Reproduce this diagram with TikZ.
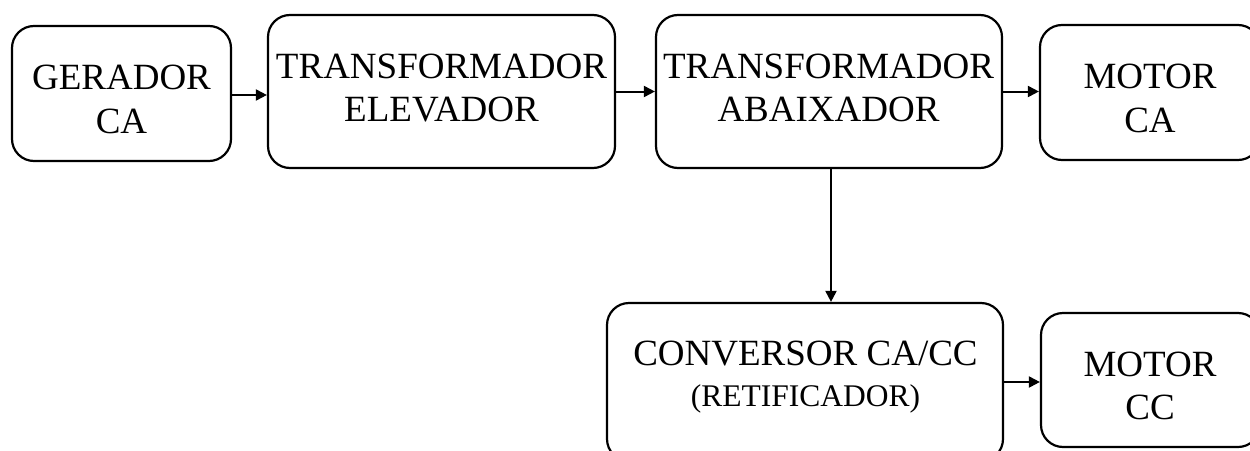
\documentclass[tikz,border=0pt]{standalone}
\usepackage{fontspec}
\setmainfont{Liberation Serif}
\usetikzlibrary{arrows.meta}
\begin{document}
\begin{tikzpicture}[x=1pt,y=-1pt,
  box/.style={draw=black, line width=2.2pt, rounded corners=22pt, inner sep=0pt},
  lbl/.style={anchor=base, inner sep=0pt, font=\fontsize{37}{44}\selectfont},
  lblsmall/.style={anchor=base, inner sep=0pt, font=\fontsize{31.5}{38}\selectfont},
  arr/.style={line width=2pt, -{Triangle[length=11pt,width=11pt]}}]
\useasboundingbox (0,0) rectangle (1250,450);
\clip (0,0) rectangle (1250,450);
% boxes
\node[box, minimum width=219pt, minimum height=135pt] (b1) at (121.5,93.5) {};
\node[box, minimum width=347pt, minimum height=153pt] (b2) at (441.5,91.5) {};
\node[box, minimum width=346pt, minimum height=153pt] (b3) at (829,91.5) {};
\node[box, minimum width=220pt, minimum height=135pt] (b4) at (1150,92.5) {};
\node[box, minimum width=396pt, minimum height=158pt] (b5) at (805,382) {};
\node[box, minimum width=219pt, minimum height=134pt] (b6) at (1150.5,380) {};
% texts
\node[lbl] (t1a) at (121.5,89) {GERADOR};
\node[lbl] (t1b) at (121.5,133) {CA};
\node[lbl] (t2a) at (441.5,78) {TRANSFORMADOR};
\node[lbl] (t2b) at (441.5,121) {ELEVADOR};
\node[lbl] (t3a) at (828.5,78) {TRANSFORMADOR};
\node[lbl] (t3b) at (828.5,121) {ABAIXADOR};
\node[lbl] (t4a) at (1150,88) {MOTOR};
\node[lbl] (t4b) at (1150,132) {CA};
\node[lbl] (t5a) at (805.5,365) {CONVERSOR CA/CC};
\node[lblsmall] (t5b) at (805.5,406) {(RETIFICADOR)};
\node[lbl] (t6a) at (1150,376) {MOTOR};
\node[lbl] (t6b) at (1150,419) {CC};
% connectors
\draw[arr] ([yshift=-1.5pt]b1.east) -- ([yshift=-1.5pt]b2.west |- b1.east);
\draw[arr] (b2.east) -- (b3.west);
\draw[arr] (b3.east) -- (b4.west |- b3.east);
\coordinate (vs) at ([xshift=2pt]b3.south);
\draw[arr] (vs) -- (vs |- b5.north);
\draw[arr] (b5.east) -- (b6.west |- b5.east);
\end{tikzpicture}
\end{document}
